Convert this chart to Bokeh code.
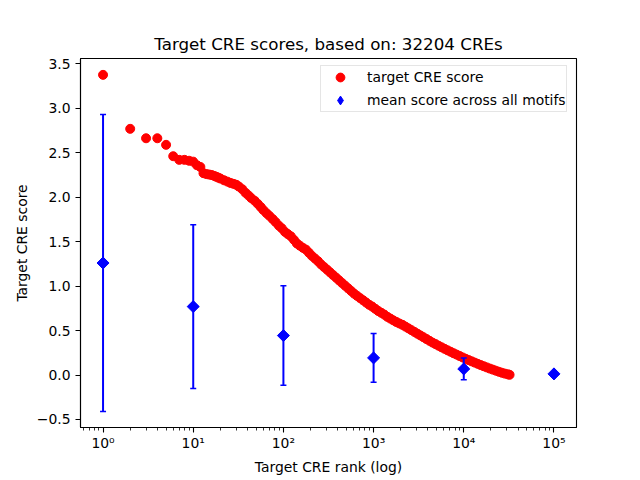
import math
from bokeh.plotting import figure
from bokeh.models import Range1d, FixedTicker, Legend, LegendItem, ColumnDataSource
from bokeh.embed import file_html
from bokeh.resources import INLINE

title_text = "Target CRE scores, based on: 32204 CREs"
x_label = "Target CRE rank (log)"
y_label = "Target CRE score"

# target CRE score per rank
cre_rank = [1, 2, 3, 4, 5, 6, 7, 8, 9, 10, 11, 12, 13, 14, 15, 16, 17, 18, 19,
            20, 22, 24, 26, 28, 30, 32, 35, 38, 41, 44, 48, 52, 56, 60, 65, 70,
            76, 82, 89, 96, 104, 112, 121, 131, 141, 152, 165, 178, 192, 207,
            224, 242, 261, 282, 305, 329, 355, 384, 414, 447, 483, 522, 564,
            609, 657, 710, 767, 828, 894, 966, 1043, 1127, 1217, 1314, 1419,
            1533, 1656, 1788, 1931, 2086, 2252, 2433, 2627, 2837, 3064, 3309,
            3574, 3860, 4169, 4502, 4862, 5251, 5671, 6125, 6615, 7144, 7716,
            8333, 9000, 9720, 10497, 11337, 12244, 13224, 14282, 15424, 16658,
            17991, 19430, 20984, 22663, 24476, 26434, 28549, 30833, 32204]
cre_score = [3.376, 2.769, 2.663, 2.663, 2.589, 2.461, 2.42, 2.42, 2.41, 2.40,
             2.36, 2.34, 2.27, 2.26, 2.255, 2.25, 2.24, 2.23, 2.22,
             2.21, 2.19, 2.175, 2.16, 2.15, 2.14, 2.12, 2.09, 2.05, 2.02, 1.99,
             1.96, 1.925, 1.89, 1.855, 1.82, 1.79, 1.755, 1.72, 1.68, 1.65,
             1.61, 1.585, 1.56, 1.52, 1.48, 1.455, 1.43, 1.41, 1.375, 1.34,
             1.31, 1.28, 1.245, 1.215, 1.185, 1.155, 1.125, 1.095, 1.065, 1.035,
             1.005, 0.975, 0.945, 0.915, 0.89, 0.865, 0.84, 0.815, 0.79, 0.77,
             0.745, 0.72, 0.70, 0.68, 0.655, 0.635, 0.615, 0.597, 0.58, 0.565,
             0.545, 0.525, 0.505, 0.485, 0.465, 0.445, 0.425, 0.405, 0.385,
             0.365, 0.348, 0.33, 0.312, 0.295, 0.278, 0.262, 0.245, 0.23, 0.214,
             0.198, 0.183, 0.168, 0.154, 0.14, 0.126, 0.112, 0.099, 0.086,
             0.073, 0.061, 0.049, 0.037, 0.026, 0.016, 0.008, 0.003]

# mean score across all motifs with error bars
motif_rank = [1, 10, 100, 1000, 10000, 100000]
motif_mean = [1.26, 0.77, 0.444, 0.193, 0.069, 0.013]
motif_err = [1.67, 0.92, 0.56, 0.275, 0.123, 0.0]

x_ticks = [1, 10, 100, 1000, 10000, 100000]
x_tick_labels = ["10\u2070", "10\u00b9", "10\u00b2", "10\u00b3", "10\u2074", "10\u2075"]
y_ticks = [-0.5, 0.0, 0.5, 1.0, 1.5, 2.0, 2.5, 3.0, 3.5]
y_tick_labels = ["\u22120.5", "0.0", "0.5", "1.0", "1.5", "2.0", "2.5", "3.0", "3.5"]

FONT = "DejaVu Sans"

p = figure(frame_width=496, frame_height=369,
           x_axis_type="log",
           x_range=Range1d(10 ** -0.25, 10 ** 5.25),
           y_range=Range1d(-0.59, 3.56),
           output_backend="svg", toolbar_location=None,
           min_border_left=80, min_border_right=64,
           min_border_top=58, min_border_bottom=53,
           title=title_text)

p.title.align = "center"
p.title.text_font = FONT
p.title.text_font_size = "16.7px"
p.title.text_font_style = "normal"
p.title.text_color = "black"
p.title.standoff = 9

p.grid.visible = False
p.outline_line_color = "black"
p.outline_line_width = 1.1
p.background_fill_color = "white"
p.border_fill_color = "white"

minor = [m * 10 ** e for e in range(-1, 6) for m in range(2, 10)
         if 10 ** -0.25 <= m * 10 ** e <= 10 ** 5.25]
p.xaxis.ticker = FixedTicker(ticks=x_ticks, minor_ticks=minor)
p.xaxis.major_label_overrides = dict(zip(x_ticks, x_tick_labels))
p.yaxis.ticker = FixedTicker(ticks=y_ticks)
p.yaxis.major_label_overrides = dict(zip(y_ticks, y_tick_labels))

for ax in (p.xaxis[0], p.yaxis[0]):
    ax.axis_line_color = "black"
    ax.axis_line_width = 1.1
    ax.major_tick_line_color = "black"
    ax.major_tick_line_width = 1.1
    ax.major_tick_out = 5
    ax.major_tick_in = 0
    ax.minor_tick_line_color = "black"
    ax.minor_tick_line_width = 0.8
    ax.minor_tick_out = 3
    ax.minor_tick_in = 0
    ax.major_label_text_font = FONT
    ax.major_label_text_font_size = "13.9px"
    ax.major_label_text_color = "black"
    ax.axis_label_text_font = FONT
    ax.axis_label_text_font_size = "13.9px"
    ax.axis_label_text_font_style = "normal"
    ax.axis_label_text_color = "black"

p.xaxis.major_label_standoff = 2
p.yaxis.major_label_standoff = 5
p.xaxis.axis_label = x_label
p.yaxis.axis_label = y_label
p.xaxis.axis_label_standoff = 5
p.yaxis.axis_label_standoff = 4
p.yaxis.minor_tick_line_color = None

cre_src = ColumnDataSource(dict(x=cre_rank, y=cre_score))
r_red = p.scatter("x", "y", source=cre_src, marker="circle", size=9,
                  fill_color="red", line_color="red")

lower = [m - e for m, e in zip(motif_mean, motif_err)]
upper = [m + e for m, e in zip(motif_mean, motif_err)]
mot_src = ColumnDataSource(dict(x=motif_rank, y=motif_mean, lo=lower, hi=upper))
p.segment(x0="x", y0="lo", x1="x", y1="hi", source=mot_src,
          line_color="blue", line_width=2)
p.scatter("x", "lo", source=mot_src, marker="dash", size=6,
          line_color="blue", line_width=1.5)
p.scatter("x", "hi", source=mot_src, marker="dash", size=6,
          line_color="blue", line_width=1.5)
r_blue = p.scatter("x", "y", source=mot_src, marker="square", size=8.5,
                   angle=math.pi / 4, fill_color="blue", line_color="blue")
# narrow diamond drawn inside the rotated squares (invisible there); it gives
# the legend a diamond shape, since legend glyphs ignore the marker angle
r_leg_blue = p.scatter("x", "y", source=mot_src, marker="diamond", size=11,
                       fill_color="blue", line_color="blue")

legend = Legend(items=[LegendItem(label="target CRE score", renderers=[r_red]),
                       LegendItem(label="mean score across all motifs",
                                  renderers=[r_leg_blue])],
                location=(240, 315))
legend.padding = 0
legend.spacing = 1
legend.glyph_width = 38
legend.glyph_height = 22
legend.label_height = 22
legend.label_standoff = 8
legend.label_text_font = FONT
legend.label_text_font_size = "13.9px"
legend.label_text_color = "black"
legend.border_line_color = "#cccccc"
legend.border_line_width = 1
legend.background_fill_color = "white"
legend.background_fill_alpha = 0.8
legend.margin = 0
p.add_layout(legend)

open("out.html", "w").write(file_html(p, INLINE))
